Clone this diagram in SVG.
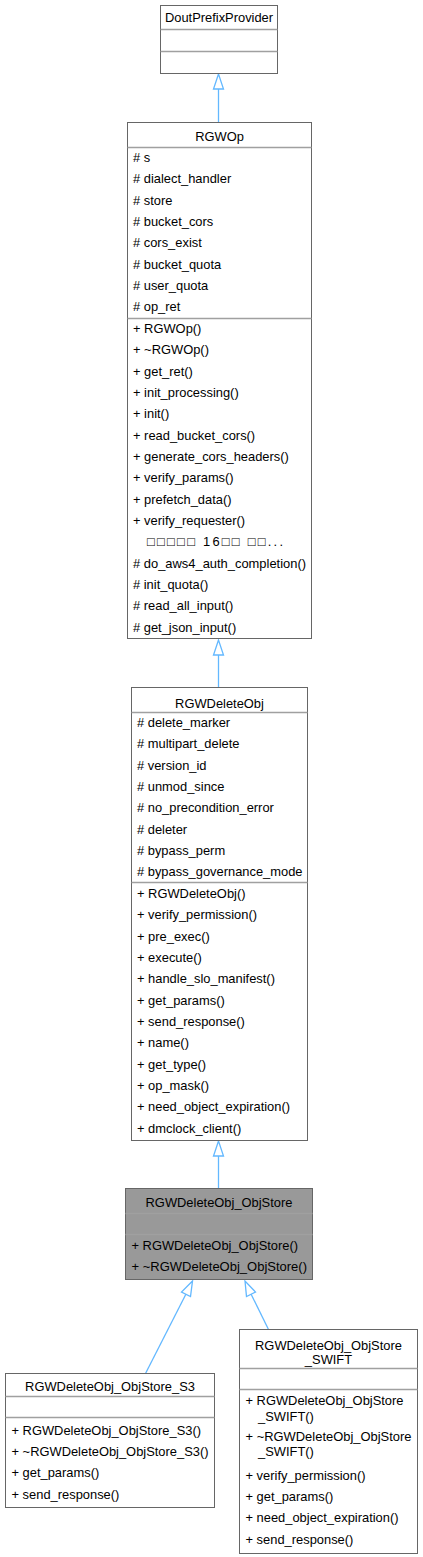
<svg xmlns="http://www.w3.org/2000/svg" width="423" height="1557" viewBox="0 0 423 1557">
<style>
.box{fill:#ffffff;stroke:#666666;stroke-width:1}
.hl{fill:#999999;stroke:#666666;stroke-width:1}
.sep{stroke:#a0a0a0;stroke-width:1.3;fill:none}
text{font-family:"Liberation Sans","DejaVu Sans",Arial,sans-serif;font-size:12.9px;fill:#000000}
.c{text-anchor:middle}
.edge{stroke:#63b8ff;stroke-width:1.3;fill:none}
.head{stroke:#63b8ff;stroke-width:1.3;fill:#ffffff}
</style>
<rect width="423" height="1557" fill="#ffffff"/>
<g id="connectors">
<path class="edge" d="M218.5,89 V122.5"/>
<polygon class="head" points="218.5,74 213.5,89 223.5,89"/>
<path class="edge" d="M218.5,655 V687.5"/>
<polygon class="head" points="218.5,640 213.5,655 223.5,655"/>
<path class="edge" d="M218.5,1156 V1188.5"/>
<polygon class="head" points="218.5,1141 213.5,1156 223.5,1156"/>
<path class="edge" d="M145.5,1373.5 L186,1294"/>
<polygon class="head" points="192.5,1281 181.5,1292 190.5,1296.5"/>
<path class="edge" d="M268.5,1329.5 L251,1294"/>
<polygon class="head" points="245,1281 246.5,1296.5 255.5,1292"/>
</g>
<g id="DoutPrefixProvider">
<rect class="box" x="160.5" y="5.5" width="117" height="68"/>
<path class="sep" d="M160.5,29.5 H277.5 M160.5,51.5 H277.5"/>
<text class="c" x="219" y="22">DoutPrefixProvider</text>
</g>
<g id="RGWOp">
<rect class="box" x="127.5" y="122.5" width="184" height="516"/>
<path class="sep" d="M127.5,147.5 H311.5 M127.5,318.5 H311.5"/>
<text class="c" x="219.5" y="141">RGWOp</text>
<text x="133" y="162"># s</text>
<text x="133" y="183.3"># dialect_handler</text>
<text x="133" y="204.7"># store</text>
<text x="133" y="226"># bucket_cors</text>
<text x="133" y="247.3"># cors_exist</text>
<text x="133" y="268.7"># bucket_quota</text>
<text x="133" y="290"># user_quota</text>
<text x="133" y="311.3"># op_ret</text>
<text x="133" y="333">+ RGWOp()</text>
<text x="133" y="354.3">+ ~RGWOp()</text>
<text x="133" y="375.7">+ get_ret()</text>
<text x="133" y="397">+ init_processing()</text>
<text x="133" y="418.3">+ init()</text>
<text x="133" y="439.7">+ read_bucket_cors()</text>
<text x="133" y="461">+ generate_cors_headers()</text>
<text x="133" y="482.3">+ verify_params()</text>
<text x="133" y="503.7">+ prefetch_data()</text>
<text x="133" y="525">+ verify_requester()</text>
<text x="147" y="546.3" textLength="136" lengthAdjust="spacing">□□□□□ 16□□ □□...</text>
<text x="133" y="567.7" textLength="173" lengthAdjust="spacingAndGlyphs"># do_aws4_auth_completion()</text>
<text x="133" y="589"># init_quota()</text>
<text x="133" y="610.3"># read_all_input()</text>
<text x="133" y="631.7"># get_json_input()</text>
</g>
<g id="RGWDeleteObj">
<rect class="box" x="131.5" y="687.5" width="176" height="453"/>
<path class="sep" d="M131.5,712.5 H307.5 M131.5,882.5 H307.5"/>
<text class="c" x="219.5" y="708">RGWDeleteObj</text>
<text x="137" y="727"># delete_marker</text>
<text x="137" y="748.3"># multipart_delete</text>
<text x="137" y="769.7"># version_id</text>
<text x="137" y="791"># unmod_since</text>
<text x="137" y="812.3"># no_precondition_error</text>
<text x="137" y="833.7"># deleter</text>
<text x="137" y="855"># bypass_perm</text>
<text x="137" y="876.3" textLength="165.5" lengthAdjust="spacingAndGlyphs"># bypass_governance_mode</text>
<text x="137" y="898">+ RGWDeleteObj()</text>
<text x="137" y="919.3">+ verify_permission()</text>
<text x="137" y="940.7">+ pre_exec()</text>
<text x="137" y="962">+ execute()</text>
<text x="137" y="983.3">+ handle_slo_manifest()</text>
<text x="137" y="1004.7">+ get_params()</text>
<text x="137" y="1026">+ send_response()</text>
<text x="137" y="1047.3">+ name()</text>
<text x="137" y="1068.7">+ get_type()</text>
<text x="137" y="1090">+ op_mask()</text>
<text x="137" y="1111.3">+ need_object_expiration()</text>
<text x="137" y="1132.7">+ dmclock_client()</text>
</g>
<g id="RGWDeleteObj_ObjStore">
<rect class="hl" x="125.5" y="1188.5" width="187" height="91"/>
<path class="sep" d="M125.5,1213.5 H312.5 M125.5,1234.5 H312.5"/>
<text class="c" x="219" y="1207">RGWDeleteObj_ObjStore</text>
<text x="131.5" y="1250">+ RGWDeleteObj_ObjStore()</text>
<text x="131.5" y="1271.3" textLength="175.5" lengthAdjust="spacingAndGlyphs">+ ~RGWDeleteObj_ObjStore()</text>
</g>
<g id="RGWDeleteObj_ObjStore_S3">
<rect class="box" x="5.5" y="1373.5" width="209" height="134"/>
<path class="sep" d="M5.5,1396.5 H214.5 M5.5,1417.5 H214.5"/>
<text class="c" x="110" y="1391">RGWDeleteObj_ObjStore_S3</text>
<text x="11.5" y="1434.5">+ RGWDeleteObj_ObjStore_S3()</text>
<text x="11.5" y="1455.8" textLength="197" lengthAdjust="spacingAndGlyphs">+ ~RGWDeleteObj_ObjStore_S3()</text>
<text x="11.5" y="1477.2">+ get_params()</text>
<text x="11.5" y="1498.5">+ send_response()</text>
</g>
<g id="RGWDeleteObj_ObjStore_SWIFT">
<rect class="box" x="239.5" y="1329.5" width="178" height="224"/>
<path class="sep" d="M239.5,1368.5 H417.5 M239.5,1389.5 H417.5"/>
<text class="c" x="328.5" y="1349.5">RGWDeleteObj_ObjStore</text>
<text class="c" x="328.5" y="1364">_SWIFT</text>
<text x="245.5" y="1404.5">+ RGWDeleteObj_ObjStore</text>
<text x="258" y="1421">_SWIFT()</text>
<text x="245.5" y="1440.5" textLength="166" lengthAdjust="spacingAndGlyphs">+ ~RGWDeleteObj_ObjStore</text>
<text x="258" y="1456">_SWIFT()</text>
<text x="245.5" y="1479.5">+ verify_permission()</text>
<text x="245.5" y="1500.8">+ get_params()</text>
<text x="245.5" y="1522.2">+ need_object_expiration()</text>
<text x="245.5" y="1543.5">+ send_response()</text>
</g>
</svg>
